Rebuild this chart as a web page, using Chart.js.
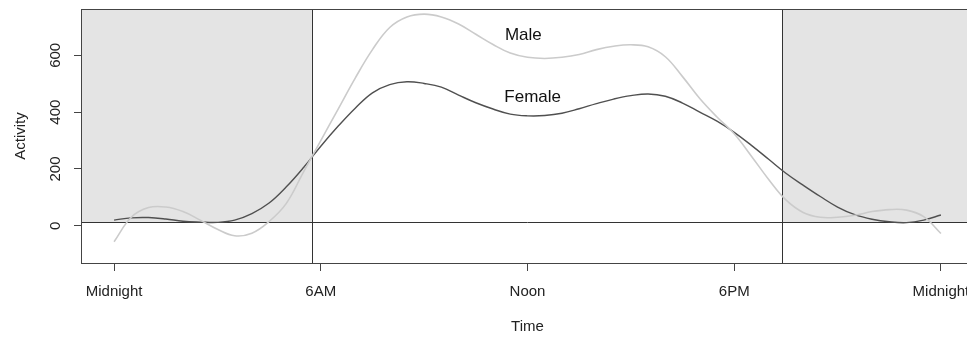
<!DOCTYPE html>
<html>
<head>
<meta charset="utf-8">
<script src="https://cdn.jsdelivr.net/npm/chart.js@4/dist/chart.umd.min.js"></script>
<style>
  body { margin: 0; background: #fff; overflow: hidden; }
  #wrap { width: 990px; height: 338px; }
</style>
</head>
<body>
<div id="wrap"><canvas id="activityChart" width="990" height="338"></canvas></div>
<script>
// hours of the day, half hour steps
const hours = [0, 0.5, 1, 1.5, 2, 2.5, 3, 3.5, 4, 4.5, 5, 5.5, 6, 6.5, 7, 7.5, 8, 8.5, 9, 9.5, 10, 10.5, 11, 11.5,
  12, 12.5, 13, 13.5, 14, 14.5, 15, 15.5, 16, 16.5, 17, 17.5, 18, 18.5, 19, 19.5, 20, 20.5, 21, 21.5, 22, 22.5, 23, 23.5, 24];
const maleActivity = [-56, 30, 64, 66, 50, 20, -12, -35, -26, 15, 79, 190, 300, 410, 520, 620, 698, 735, 745, 735, 710, 674, 638, 608,
  593, 589, 593, 603, 620, 632, 637, 630, 595, 525, 448, 383, 324, 245, 163, 91, 47, 30, 30, 37, 50, 57, 55, 32, -27];
const femaleActivity = [20, 28, 29, 24, 16, 13, 12, 20, 43, 80, 137, 205, 280, 350, 414, 468, 497, 507, 501, 488, 460, 433, 411, 393,
  387, 388, 396, 412, 430, 446, 458, 464, 456, 432, 400, 368, 329, 283, 234, 185, 143, 103, 66, 39, 23, 14, 11, 20, 38];

const xTicks = [0, 6, 12, 18, 24];
const xTickLabels = ['Midnight', '6AM', 'Noon', '6PM', 'Midnight'];
const yTicks = [0, 200, 400, 600];

// night shading: dark until sunrise, dark after sunset, reference line
const sunrise = 5.74;
const sunset = 19.4;
const refLine = 12;

const seriesLabels = [
  { text: 'Male', x: 11.88, y: 672 },
  { text: 'Female', x: 12.15, y: 453 }
];

const FONT = "'Liberation Sans', Arial, Helvetica, sans-serif";

const nightPlugin = {
  id: 'night',
  beforeDatasetsDraw(chart) {
    const { ctx, chartArea: a, scales: { x, y } } = chart;
    const xs = x.getPixelForValue(sunrise);
    const xe = x.getPixelForValue(sunset);
    const yr = y.getPixelForValue(refLine);
    ctx.save();
    ctx.fillStyle = '#e4e4e4';
    ctx.fillRect(a.left, a.top, xs - a.left, yr - a.top);
    ctx.fillRect(xe, a.top, a.right - xe, yr - a.top);
    ctx.strokeStyle = '#333';
    ctx.lineWidth = 1;
    ctx.beginPath();
    ctx.moveTo(Math.round(xs) + 0.5, a.top);
    ctx.lineTo(Math.round(xs) + 0.5, a.bottom);
    ctx.moveTo(Math.round(xe) + 0.5, a.top);
    ctx.lineTo(Math.round(xe) + 0.5, a.bottom);
    ctx.moveTo(a.left, Math.round(yr) + 0.5);
    ctx.lineTo(a.right, Math.round(yr) + 0.5);
    ctx.stroke();
    ctx.restore();
  },
  afterDraw(chart) {
    const { ctx, chartArea: a, scales: { x, y } } = chart;
    ctx.save();
    // box round the plot
    ctx.strokeStyle = '#444';
    ctx.lineWidth = 1;
    ctx.strokeRect(Math.round(a.left) + 0.5, Math.round(a.top) + 0.5, Math.round(a.right - a.left), Math.round(a.bottom - a.top));
    // rotated y tick labels, like R
    ctx.fillStyle = '#222';
    ctx.font = '15px ' + FONT;
    ctx.textAlign = 'center';
    ctx.textBaseline = 'middle';
    yTicks.forEach(v => {
      ctx.save();
      ctx.translate(56, y.getPixelForValue(v));
      ctx.rotate(-Math.PI / 2);
      ctx.fillText(String(v), 0, 0);
      ctx.restore();
    });
    // series names
    ctx.fillStyle = '#111';
    ctx.font = '17px ' + FONT;
    seriesLabels.forEach(l => {
      ctx.fillText(l.text, x.getPixelForValue(l.x), y.getPixelForValue(l.y));
    });
    ctx.restore();
  }
};

new Chart(document.getElementById('activityChart'), {
  type: 'line',
  data: {
    datasets: [
      {
        label: 'Male',
        data: hours.map((h, i) => ({ x: h, y: maleActivity[i] })),
        borderColor: '#cbcbcb',
        borderWidth: 1.6,
        pointRadius: 0,
        tension: 0.4,
        fill: false
      },
      {
        label: 'Female',
        data: hours.map((h, i) => ({ x: h, y: femaleActivity[i] })),
        borderColor: '#505050',
        borderWidth: 1.4,
        pointRadius: 0,
        tension: 0.4,
        fill: false
      }
    ]
  },
  options: {
    responsive: false,
    animation: false,
    layout: { padding: { top: 9, right: 16, left: 0, bottom: 0 } },
    plugins: { legend: { display: false }, tooltip: { enabled: false } },
    scales: {
      x: {
        type: 'linear',
        min: -0.96,
        max: 24.96,
        afterBuildTicks: s => { s.ticks = xTicks.map(v => ({ value: v })); },
        afterFit: s => { s.height = 75; },
        border: { display: false },
        grid: { drawOnChartArea: false, drawTicks: true, tickLength: 8, color: '#444' },
        ticks: {
          color: '#222',
          font: { family: FONT, size: 15 },
          padding: 12,
          maxRotation: 0,
          autoSkip: false,
          callback: v => xTickLabels[xTicks.indexOf(v)]
        },
        title: { display: true, text: 'Time', color: '#222', font: { family: FONT, size: 15 }, padding: { top: 0, bottom: 2 } }
      },
      y: {
        min: -131,
        max: 763,
        afterBuildTicks: s => { s.ticks = yTicks.map(v => ({ value: v })); },
        afterFit: s => { s.width = 81; },
        border: { display: false },
        grid: { drawOnChartArea: false, drawTicks: true, tickLength: 7, color: '#444' },
        ticks: { display: false },
        title: { display: true, text: 'Activity', color: '#222', font: { family: FONT, size: 15 }, padding: { top: 12, bottom: 0 } }
      }
    }
  },
  plugins: [nightPlugin]
});
</script>
</body>
</html>
